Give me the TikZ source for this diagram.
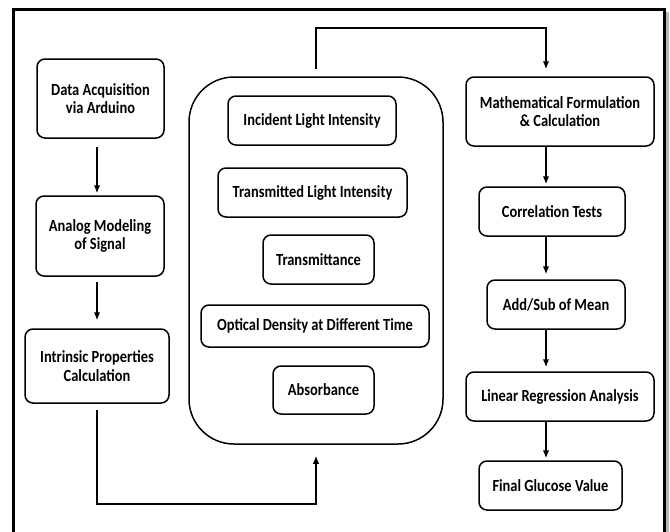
\documentclass[tikz,border=0pt]{standalone}
\usepackage{fontspec}
\setmainfont{Carlito}
\newfontfamily\boxfont{Carlito}[FakeStretch=0.85]
\usetikzlibrary{arrows.meta}
\tikzset{
  box/.style={draw, line width=1.5pt, rounded corners=8pt, align=center, inner sep=0pt,
    font=\boxfont\bfseries\fontsize{17}{18.7}\selectfont},
  arr/.style={line width=1.4pt, -{Latex[length=8pt,width=6.5pt]}},
}
\begin{document}
\begin{tikzpicture}[x=1pt,y=-1pt]
\useasboundingbox (0,0) rectangle (670,531);
% frame
\draw[gray!55, line width=2.5pt] (667.5,12) -- (667.5,545);
\draw[line width=3pt] (13.5,545) -- (13.5,9) -- (664,9) -- (664,545);
% column coordinates
\coordinate (lc) at (97,0);
\coordinate (mc) at (316,0);
\coordinate (rc) at (546,0);
% left column
\node[box, minimum width=127pt, minimum height=79pt] (b1) at (100.5,98.5) {Data Acquisition\\via Arduino};
\node[box, minimum width=128pt, minimum height=80pt] (b2) at (100,236) {Analog Modeling\\of Signal};
\node[box, minimum width=144pt, minimum height=74pt] (b3) at (97,366) {Intrinsic Properties\\Calculation};
% middle big box
\node[draw, line width=1.5pt, rounded corners=45pt, minimum width=254pt, minimum height=367pt, inner sep=0pt] (big) at (316,260.5) {};
\node[box, minimum width=168pt, minimum height=49pt] (i1) at (312,120.5) {Incident Light Intensity};
\node[box, minimum width=189pt, minimum height=49pt] (i2) at (312.5,192.5) {Transmitted Light Intensity};
\node[box, minimum width=111pt, minimum height=49pt] (i3) at (318.5,259.5) {Transmittance};
\node[box, minimum width=228pt, minimum height=42pt] (i4) at (315,326) {Optical Density at Different Time};
\node[box, minimum width=101pt, minimum height=48pt] (i5) at (323.5,390) {Absorbance};
% right column
\node[box, minimum width=188pt, minimum height=69pt] (m1) at (560,111.5) {Mathematical Formulation\\\& Calculation};
\node[box, minimum width=146pt, minimum height=49pt] (m2) at (552,211.5) {Correlation Tests};
\node[box, minimum width=138pt, minimum height=49pt] (m3) at (556,304.5) {Add/Sub of Mean};
\node[box, minimum width=188pt, minimum height=49pt] (m4) at (560,396.5) {Linear Regression Analysis};
\node[box, minimum width=143pt, minimum height=49pt] (m5) at (550.5,485.5) {Final Glucose Value};
% arrows left
\draw[arr, shorten <=8pt, shorten >=2pt] (b1.south -| lc) -- (b2.north -| lc);
\draw[arr, shorten <=5pt, shorten >=8pt] (b2.south -| lc) -- (b3.north -| lc);
% bottom connector
\coordinate (c1) at (97,504);
\coordinate (c2) at (316,504);
\draw[arr, shorten <=6pt, shorten >=11pt] (b3.south -| lc) -- (c1) -- (c2) -- (big.south -| mc);
% top connector
\coordinate (t1) at (316,28);
\coordinate (t2) at (546,28);
\draw[arr, shorten <=7pt, shorten >=7pt] (big.north -| mc) -- (t1) -- (t2) -- (m1.north -| rc);
% arrows right
\draw[arr, shorten >=2pt] (m1.south -| rc) -- (m2.north -| rc);
\draw[arr, shorten >=5pt] (m2.south -| rc) -- (m3.north -| rc);
\draw[arr, shorten >=4pt] (m3.south -| rc) -- (m4.north -| rc);
\draw[arr, shorten >=2pt] (m4.south -| rc) -- (m5.north -| rc);
\end{tikzpicture}
\end{document}
